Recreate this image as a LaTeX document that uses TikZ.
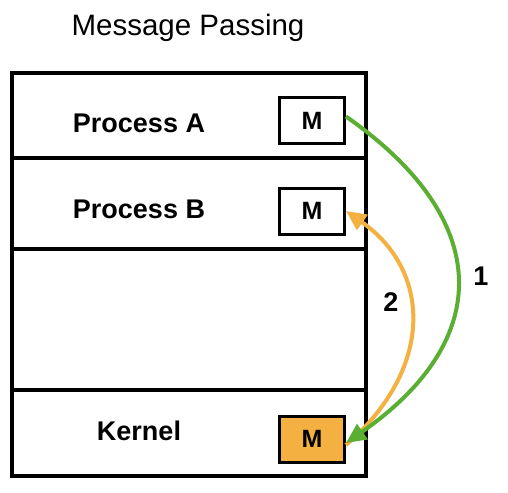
\documentclass[tikz,border=0pt]{standalone}
\usepackage{fontspec}
\setmainfont{Liberation Sans}
\usetikzlibrary{arrows.meta, positioning}
\definecolor{msgGreen}{HTML}{5AAE32}
\definecolor{msgOrange}{HTML}{F4B142}

\begin{document}
\begin{tikzpicture}[x=1pt, y=-1pt,
    section/.style = {draw, line width=4pt, minimum width=354pt, inner sep=0pt},
    msgBox/.style = {draw, line width=3pt, minimum width=65pt, minimum height=46pt,
      inner sep=0pt, font=\fontsize{25}{28}\selectfont\bfseries},
    procText/.style = {inner sep=0pt, font=\fontsize{27}{31}\selectfont\bfseries},
    stepNum/.style = {inner sep=0pt, font=\fontsize{27}{31}\selectfont\bfseries},
    msgArrow/.style = {line width=4pt, -{Triangle[length=20pt, width=18pt]}}]
  \useasboundingbox (0, 0) rectangle (508, 492);

  % ------------------------
  % memory layout
  % ------------------------

  \node[inner sep=0pt, font=\fontsize{29.5}{34}\selectfont, anchor=base] (title) at (188, 36) {Message Passing};

  \node[section, minimum height=85pt]  (secA) at (189, 115.5) {};
  \node[section, minimum height=91pt]  (secB) at (189, 203.5) {};
  \node[section, minimum height=141pt] (secC) at (189, 319.5) {};
  \node[section, minimum height=86pt]  (secK) at (189, 433) {};

  \node[procText] (procA) at (139, 123.5) {Process A};
  \node[procText] (procB) at (139, 209.5) {Process B};
  \node[procText] (kernel) at (139, 431) {Kernel};

  % message copies
  \node[msgBox] (msgA) at (312, 120.5) {M};
  \node[msgBox] (msgB) at (312, 211) {M};
  \node[msgBox, fill = msgOrange] (msgK) at (312, 439) {M};

  % ------------------------
  % send / receive
  % ------------------------

  \draw[msgArrow, msgOrange] ([yshift=-6pt]msgK.east) .. controls (433, 370) and (433, 272) .. (msgB.east);
  \draw[msgArrow, msgGreen] ([yshift=4pt]msgA.east) .. controls (494, 220) and (494, 340) .. ([yshift=-4pt]msgK.east);

  \node[stepNum] (stepOne) at (481, 276) {1};
  \node[stepNum] (stepTwo) at (391, 302) {2};
\end{tikzpicture}
\end{document}
